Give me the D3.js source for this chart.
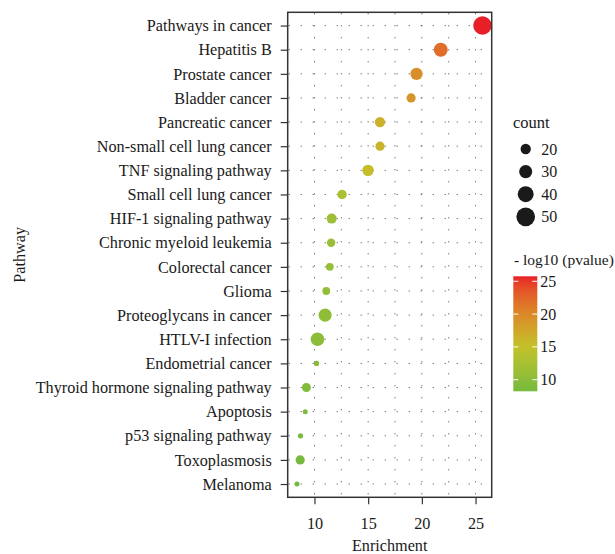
<!DOCTYPE html>
<html>
<head>
<meta charset="utf-8">
<script src="https://cdn.jsdelivr.net/npm/d3@7"></script>
<style>
  body { margin: 0; background: #fff; }
  svg text { font-family: "Liberation Serif", "DejaVu Serif", serif; fill: #1a1a1a; }
</style>
</head>
<body>
<svg id="chart" width="615" height="554"></svg>
<script>
// pathways, top to bottom (sorted by p-value)
const pathways = [
  "Pathways in cancer", "Hepatitis B", "Prostate cancer", "Bladder cancer",
  "Pancreatic cancer", "Non-small cell lung cancer", "TNF signaling pathway",
  "Small cell lung cancer", "HIF-1 signaling pathway", "Chronic myeloid leukemia",
  "Colorectal cancer", "Glioma", "Proteoglycans in cancer", "HTLV-I infection",
  "Endometrial cancer", "Thyroid hormone signaling pathway", "Apoptosis",
  "p53 signaling pathway", "Toxoplasmosis", "Melanoma"
];
const enrichment = [25.64, 21.76, 19.5, 19.0, 16.1, 16.1, 14.99, 12.57, 11.6, 11.55,
  11.43, 11.1, 10.99, 10.28, 10.19, 9.25, 9.14, 8.7, 8.67, 8.37];
const counts = [49, 33, 27, 16, 20, 16, 24, 17, 19, 13,
  11, 11, 30, 32, 2, 15, 1, 2, 16, 1];
const logP = [25.76, 22.0, 19.5, 19.0, 16.5, 16.4, 15.5, 13.0, 11.5, 11.0,
  10.9, 10.5, 10.3, 10.0, 9.5, 9.1, 8.9, 8.6, 8.4, 8.23];

const xTicks = [10, 15, 20, 25];
const xGrid = [7.5, 10, 12.5, 15, 17.5, 20, 22.5, 25];
const countBreaks = [20, 30, 40, 50];
const colorBreaks = [10, 15, 20, 25];

// panel box
let pLeft = 287.7, pRight = 491.7, pTop = 12.3, pBottom = 497.3;

let svg = d3.select("#chart");

// x: data range plus 5% on each side
let ext = d3.extent(enrichment);
let pad = (ext[1] - ext[0]) * 0.05;
let x = d3.scaleLinear().domain([ext[0] - pad, ext[1] + pad]).range([pLeft, pRight]);

let y = d3.scalePoint().domain(pathways).range([pTop, pBottom]).padding(0.55);

let r = d3.scaleLinear().domain(d3.extent(counts)).range([2.5, 9.2]);

let pExt = d3.extent(logP);
let color = d3.scaleLinear()
  .domain([pExt[0], 15, pExt[1]])
  .range(["#76ba3d", "#c2c22a", "#e81f27"])
  .interpolate(d3.interpolateLab);

// dotted grid
let grid = svg.append("g")
  .attr("stroke", "#444")
  .attr("stroke-width", 1)
  .attr("stroke-dasharray", "1,11");

grid.selectAll("line.h")
  .data(pathways)
  .enter()
  .append("line")
  .attr("x1", pLeft + 1)
  .attr("x2", pRight)
  .attr("y1", d => y(d))
  .attr("y2", d => y(d));

grid.selectAll("line.v")
  .data(xGrid)
  .enter()
  .append("line")
  .attr("x1", d => x(d))
  .attr("x2", d => x(d))
  .attr("y1", pTop + 1)
  .attr("y2", pBottom);

// points
svg.append("g")
  .selectAll("circle")
  .data(pathways)
  .enter()
  .append("circle")
  .attr("cx", (d, i) => x(enrichment[i]))
  .attr("cy", d => y(d))
  .attr("r", (d, i) => r(counts[i]))
  .attr("fill", (d, i) => color(logP[i]));

// panel border
svg.append("rect")
  .attr("x", pLeft)
  .attr("y", pTop)
  .attr("width", pRight - pLeft)
  .attr("height", pBottom - pTop)
  .attr("fill", "none")
  .attr("stroke", "#333")
  .attr("stroke-width", 1.5);

// axes
let xAxis = svg.append("g")
  .attr("transform", `translate(0,${pBottom})`)
  .call(d3.axisBottom(x).tickValues(xTicks).tickSize(7).tickPadding(13));

let yAxis = svg.append("g")
  .attr("transform", `translate(${pLeft},0)`)
  .call(d3.axisLeft(y).tickSize(7).tickPadding(9));

[xAxis, yAxis].forEach(function(a) {
  a.select(".domain").remove();
  a.selectAll(".tick line").attr("stroke", "#333").attr("stroke-width", 1.2);
  a.selectAll(".tick text")
    .attr("fill", "#1a1a1a")
    .style("font-size", "16.2px")
    .style("font-family", '"Liberation Serif", serif');
});

// axis titles
svg.append("text")
  .attr("x", (pLeft + pRight) / 2)
  .attr("y", 551)
  .attr("text-anchor", "middle")
  .style("font-size", "16.2px")
  .text("Enrichment");

svg.append("text")
  .attr("transform", `translate(25,${(pTop + pBottom) / 2}) rotate(-90)`)
  .attr("text-anchor", "middle")
  .style("font-size", "16.2px")
  .text("Pathway");

// size legend
let sizeLegend = svg.append("g");
sizeLegend.append("text")
  .attr("x", 513)
  .attr("y", 128)
  .style("font-size", "16.5px")
  .text("count");

let keys = sizeLegend.selectAll("g.key")
  .data(countBreaks)
  .enter()
  .append("g")
  .attr("transform", (d, i) => `translate(525.7,${149 + i * 22.6})`);

keys.append("circle")
  .attr("r", d => r(d))
  .attr("fill", "#1a1a1a");

keys.append("text")
  .attr("x", 15.5)
  .attr("dy", "0.35em")
  .style("font-size", "16px")
  .text(d => d);

// colour bar legend
let barX = 513.3, barW = 24, barTop = 276.3, barBottom = 391.3;
let cy = d3.scaleLinear().domain(pExt).range([barBottom, barTop]);

let defs = svg.append("defs");
let grad = defs.append("linearGradient")
  .attr("id", "pgrad")
  .attr("x1", 0).attr("y1", 1)
  .attr("x2", 0).attr("y2", 0);
grad.selectAll("stop")
  .data(d3.range(0, 1.0001, 0.05))
  .enter()
  .append("stop")
  .attr("offset", d => d)
  .attr("stop-color", d => color(pExt[0] + d * (pExt[1] - pExt[0])));

svg.append("text")
  .attr("x", 514)
  .attr("y", 265)
  .style("font-size", "15.5px")
  .text("- log10 (pvalue)");

svg.append("rect")
  .attr("x", barX)
  .attr("y", barTop)
  .attr("width", barW)
  .attr("height", barBottom - barTop)
  .attr("fill", "url(#pgrad)");

let cTicks = svg.append("g")
  .selectAll("g")
  .data(colorBreaks)
  .enter()
  .append("g")
  .attr("transform", d => `translate(0,${cy(d)})`);

cTicks.append("line")
  .attr("x1", barX).attr("x2", barX + 5)
  .attr("stroke", "#fff").attr("stroke-width", 1);
cTicks.append("line")
  .attr("x1", barX + barW - 5).attr("x2", barX + barW)
  .attr("stroke", "#fff").attr("stroke-width", 1);
cTicks.append("text")
  .attr("x", barX + barW + 3)
  .attr("dy", "0.35em")
  .style("font-size", "16px")
  .text(d => d);
</script>
</body>
</html>
